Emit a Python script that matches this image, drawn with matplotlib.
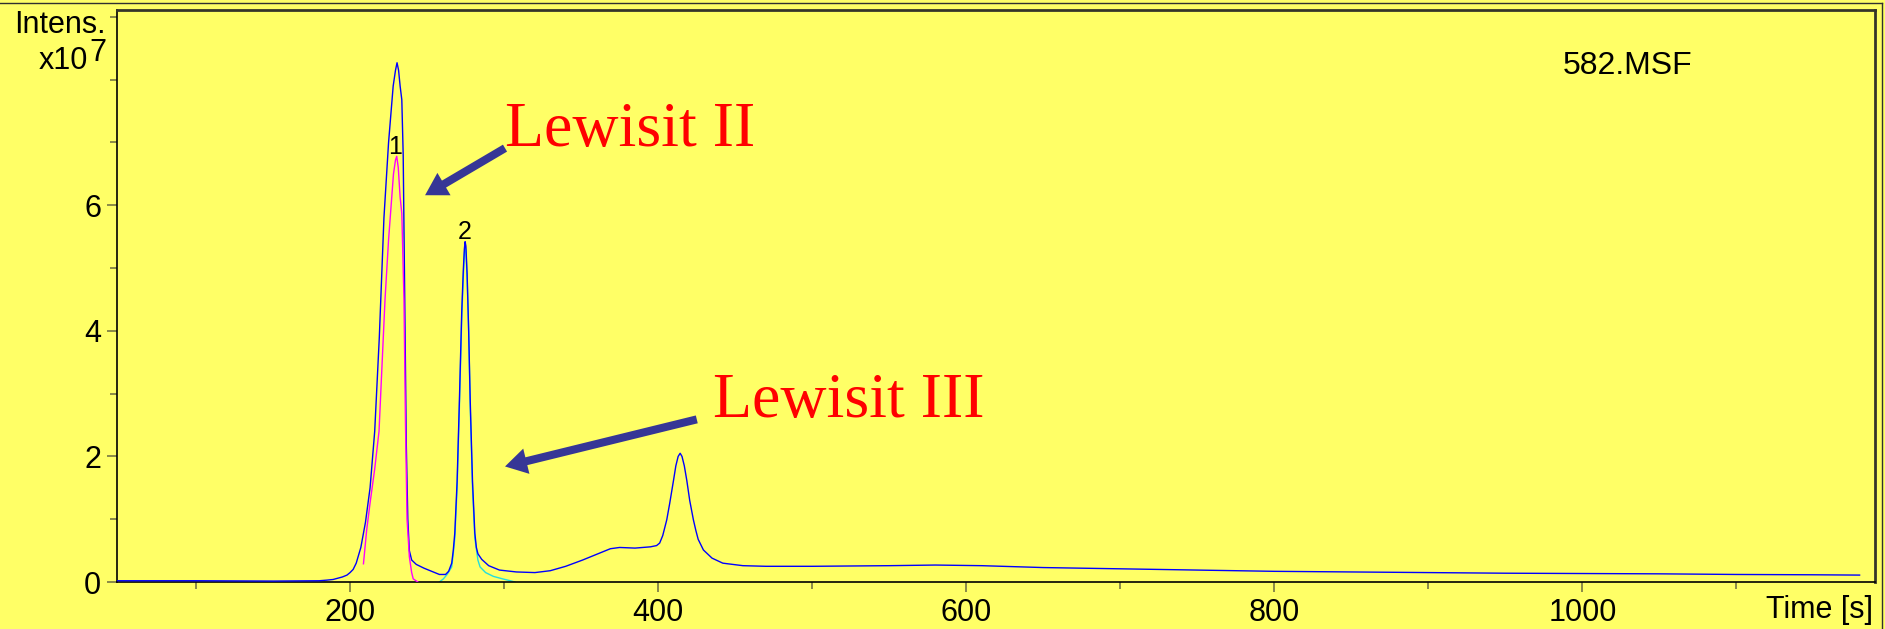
import matplotlib
matplotlib.use("Agg")
import matplotlib.pyplot as plt
from matplotlib.patches import FancyArrowPatch, ArrowStyle
from matplotlib.lines import Line2D
from matplotlib.ticker import FixedLocator, NullFormatter

# chromatogram traces, time in s, intensity in units of 1e7
tic_time = [48, 100, 150, 180, 185, 189, 192, 195, 198, 200, 202, 204, 207, 210, 213,
            216, 219, 222, 225, 228, 229.5, 230.5, 231.5, 232.5, 233.6, 234.5, 235.5,
            236.5, 237.5, 238.5, 240, 243, 248, 253, 258, 262, 264, 266, 267, 268,
            269.5, 271, 272.5, 273.5, 274.2, 274.7, 275.2, 276, 277, 278, 279.5, 281,
            282, 283, 285.5, 290, 297, 308, 320, 330, 340, 351, 362, 369, 375, 385,
            395, 399, 401, 403, 405.6, 407.5, 410, 411.5, 413, 414.3, 415.5, 417,
            418.6, 420.5, 422.9, 424.5, 426, 429.4, 435, 442, 455, 470, 500, 550, 580,
            610, 650, 700, 750, 800, 850, 900, 950, 1000, 1050, 1100, 1150, 1180]
tic_int = [0.02, 0.02, 0.015, 0.02, 0.03, 0.04, 0.06, 0.08, 0.11, 0.15, 0.2, 0.3,
           0.55, 0.95, 1.5, 2.4, 3.9, 5.8, 7.0, 7.9, 8.15, 8.27, 8.15, 7.9, 7.68, 6.8,
           4.5, 2.2, 1.0, 0.5, 0.35, 0.28, 0.22, 0.17, 0.12, 0.12, 0.17, 0.3, 0.5,
           0.78, 1.6, 2.9, 4.3, 4.95, 5.3, 5.42, 5.35, 4.9, 4.0, 2.9, 1.6, 0.78, 0.55,
           0.45, 0.36, 0.26, 0.19, 0.16, 0.15, 0.18, 0.25, 0.35, 0.46, 0.53, 0.55,
           0.54, 0.56, 0.58, 0.62, 0.74, 0.99, 1.25, 1.62, 1.85, 2.0, 2.05, 2.0, 1.85,
           1.62, 1.3, 0.99, 0.82, 0.68, 0.51, 0.38, 0.30, 0.26, 0.25, 0.25, 0.26,
           0.27, 0.26, 0.23, 0.21, 0.19, 0.17, 0.16, 0.15, 0.14, 0.135, 0.13, 0.12,
           0.115, 0.11]

eic1_time = [208.7, 210.8, 213, 216, 218.8, 222.7, 225, 228.2, 229.5, 230.3, 231.3,
             232.5, 233.6, 235, 236, 237, 238.5, 240, 241, 244]
eic1_int = [0.29, 0.83, 1.26, 1.8, 2.4, 4.5, 5.45, 6.5, 6.72, 6.78, 6.6, 6.13, 5.87,
            4.5, 2.5, 1.0, 0.4, 0.15, 0.05, 0.0]

eic2_time = [258, 260.6, 263, 266, 267, 268, 269.5, 271, 272.5, 273.5, 274.2, 274.7,
             275.2, 276, 277, 278, 279.5, 281, 283, 284.4, 288, 293, 299, 304, 307]
eic2_int = [0.0, 0.05, 0.12, 0.24, 0.45, 0.7, 1.5, 2.8, 4.2, 4.85, 5.22, 5.35, 5.28,
            4.85, 4.0, 2.8, 1.5, 0.7, 0.35, 0.24, 0.15, 0.09, 0.05, 0.02, 0.0]

# peak numbers: (time, intensity of the labelled apex)
peak_labels = ["1", "2"]
peak_pos = [(229.5, 6.78), (274.7, 5.42)]

# compound labels with arrow (tail, head) in data coords
compounds = ["Lewisit II", "Lewisit III"]
compound_text_pos = [(300.6, 6.94), (435.7, 2.62)]
arrow_tail = [(300.6, 6.91), (425.1, 2.59)]
arrow_head = [(248.7, 6.16), (300.6, 1.84)]

x_major = [200, 400, 600, 800, 1000]
x_minor = [100, 300, 500, 700, 900, 1100]
y_major = [0, 2, 4, 6]
y_minor = [1, 3, 5, 7, 8, 9]

W, H = 1885, 629
BG = "#ffff66"
plt.rcParams["font.family"] = ["Liberation Sans", "DejaVu Sans"]
plt.rcParams["mathtext.fontset"] = "custom"
plt.rcParams["mathtext.rm"] = "Liberation Sans"

fig = plt.figure(figsize=(W / 100, H / 100), dpi=100, facecolor=BG)
ax = fig.add_axes([117 / W, 47 / H, (1875 - 117) / W, (582 - 10) / H], facecolor=BG)


def px(x, y):
    # pixel position (from top-left) to figure fraction
    return x / W, 1 - y / H


ax.plot(tic_time, tic_int, color="#0000ff", lw=1.0, zorder=3)
ax.plot(eic1_time, eic1_int, color="#ff00ff", lw=1.0, zorder=4)
ax.plot(eic2_time, eic2_int, color="#22dddd", lw=1.0, zorder=2)

ax.set_xlim(48.7, 1190)
ax.set_ylim(0, 9.11)

ax.xaxis.set_major_locator(FixedLocator(x_major))
ax.xaxis.set_minor_locator(FixedLocator(x_minor))
ax.yaxis.set_major_locator(FixedLocator(y_major))
ax.yaxis.set_minor_locator(FixedLocator(y_minor))
ax.xaxis.set_minor_formatter(NullFormatter())
ax.yaxis.set_minor_formatter(NullFormatter())
ax.tick_params(which="major", direction="out", length=7.2, width=1.1, color="#6b6b40",
               labelsize=22, pad=4.0)
ax.tick_params(which="minor", direction="out", length=5, width=1.1, color="#6b6b40")
ax.tick_params(axis="y", which="major", pad=4.3)

for side in ("left", "bottom"):
    ax.spines[side].set_linewidth(1.2)
    ax.spines[side].set_color("black")
for side in ("top", "right"):
    ax.spines[side].set_linewidth(2.0)
    ax.spines[side].set_color("#35352a")

for lab, (t, v) in zip(peak_labels, peak_pos):
    ax.annotate(lab, (t, v), xytext=(0, 2), textcoords="offset points",
                ha="center", va="baseline", fontsize=18, zorder=5)

for name, (tx, ty), tail, head in zip(compounds, compound_text_pos, arrow_tail, arrow_head):
    ax.text(tx, ty, name, color="#ff0000", fontsize=46, family=["Liberation Serif"],
            ha="left", va="baseline", zorder=6)
    arr = FancyArrowPatch(tail, head, arrowstyle=ArrowStyle.Simple(
        head_length=15.8, head_width=18.7, tail_width=5.8), mutation_scale=1,
        shrinkA=0, shrinkB=0, color="#363696", lw=0, zorder=6)
    ax.add_patch(arr)

# axis captions in the instrument style; the exponent is set at full size, raised
fig.text(*px(106, 33), "Intens.", fontsize=22, ha="right", va="baseline")
fig.text(*px(88, 69), "x10", fontsize=22, ha="right", va="baseline")
fig.text(*px(89, 61), r"$\mathrm{7}$", fontsize=22, ha="left", va="baseline")
fig.text(*px(1873, 618), "Time [s]", fontsize=22, ha="right", va="baseline")
fig.text(*px(1628, 74), "582.MSF", fontsize=23, ha="center", va="baseline")

# outer frame on top and right edges
fig.add_artist(Line2D([0, 1882 / W], [1 - 3 / H, 1 - 3 / H], transform=fig.transFigure,
                      color="#303030", lw=1.0))
fig.add_artist(Line2D([1882 / W, 1882 / W], [1 - 3 / H, 0], transform=fig.transFigure,
                      color="#303030", lw=1.0))

fig.savefig("out.png", dpi=100, facecolor=BG)
